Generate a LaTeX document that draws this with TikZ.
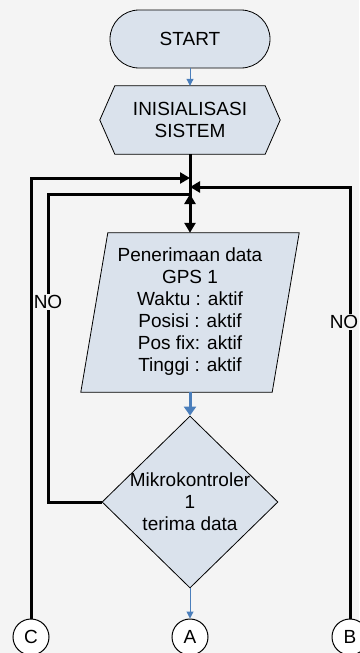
\documentclass[tikz,border=0pt]{standalone}
\usepackage{fontspec}
\setmainfont{Liberation Sans}
\usetikzlibrary{arrows.meta,shapes.geometric}
\definecolor{boxfill}{RGB}{218,226,236}
\definecolor{flowblue}{RGB}{74,126,187}
\definecolor{paper}{RGB}{244,244,244}
\tikzset{
	shp/.style={draw=black, fill=boxfill, line width=0.8pt, inner sep=0pt},
	frame/.style={inner sep=0pt},
	txt/.style={align=center, font=\fontsize{19}{22}\selectfont, inner sep=0pt},
	thinblue/.style={draw=flowblue, line width=1pt, -{Triangle[length=7pt,width=7pt]}},
	fatblue/.style={draw=flowblue, line width=3pt, -{Triangle[length=9pt,width=12pt]}},
	link/.style={draw=black, line width=3pt},
	linkarrow/.style={link, -{Triangle[length=10pt,width=11pt]}},
	conn/.style={circle, draw=black, fill=white, line width=1pt, minimum size=36pt, inner sep=0pt, font=\fontsize{19}{22}\selectfont}
}

\begin{document}
\begin{tikzpicture}[x=1pt,y=-1pt]
			%%%%% START %%%%%
			\fill[paper] (0,0) rectangle (359,653);
			\useasboundingbox (0,0) rectangle (359,653);
			
			\node[shp, txt, rounded corners=29pt, minimum width=160pt, minimum height=58pt] (start) at (190,39) {START};
			
			% preparation box, points 15pt deep
			\node[frame, minimum width=180pt, minimum height=68pt] (init) at (190,120) {};
			\draw[shp] (init.west) -- ([xshift=15pt]init.north west) -- ([xshift=-15pt]init.north east) -- (init.east) -- ([xshift=-15pt]init.south east) -- ([xshift=15pt]init.south west) -- cycle;
			\node[txt] (inittext) at (init) {INISIALISASI\\SISTEM};
			
			% input box, slanted 13.5pt each way
			\node[frame, minimum width=191pt, minimum height=159pt] (gps) at (190,312.5) {};
			\draw[shp] ([xshift=13.5pt]gps.north west) -- ([xshift=13.5pt]gps.north east) -- ([xshift=-13.5pt]gps.south east) -- ([xshift=-13.5pt]gps.south west) -- cycle;
			\node[txt] (gpstext) at (190,312) {Penerimaan data\\GPS 1\\Waktu : aktif\\Posisi : aktif\\Pos fix: aktif\\Tinggi : aktif};
			
			\node[shp, diamond, minimum width=176pt, minimum height=172pt] (cek) at (190,502) {};
			\node[txt] (cektext) at (190,502) {Mikrokontroler\\1\\terima data};
			
			\node[conn] (c) at (31,637) {C};
			\node[conn] (a) at (190,637) {A};
			\node[conn] (b) at (350,637) {B};
			
			% joints on the main line
			\coordinate (jc) at (190,178);
			\coordinate (jb) at (190,187);
			\coordinate (jn) at (190,194);
			\coordinate (jup) at (190,212);
			
			\draw[thinblue] (start.south) -- (init.north);
			\draw[linkarrow] (init.south) -- (gps.north);
			\draw[linkarrow] (c.north) |- (jc);
			\draw[linkarrow] (b.north) |- (jb);
			\draw[link] (cek.west) -- ++(-53,0) |- (jn);
			\draw[linkarrow] (jup) -- (jn);
			\draw[fatblue] (gps.south) -- (cek.north);
			\draw[thinblue] (cek.south) -- (a.north);
			
			\node[txt, fill=paper, inner sep=1pt] (noleft) at (48,302) {NO};
			\node[txt, fill=paper, inner sep=1pt] (noright) at (344,322) {NO};
			%%%%% END %%%%%
\end{tikzpicture}
\end{document}
